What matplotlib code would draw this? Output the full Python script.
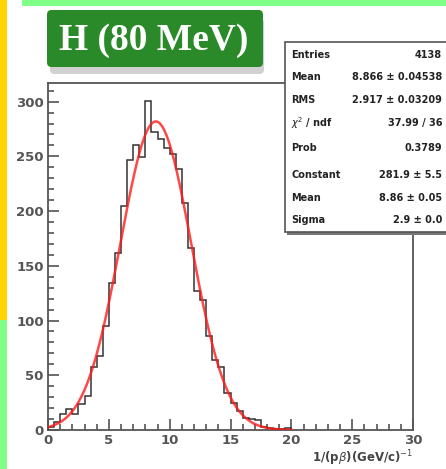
import numpy as np
import matplotlib
matplotlib.use("Agg")
import matplotlib.pyplot as plt
from matplotlib.patches import Rectangle, FancyBboxPatch

# histogram of 1/(p beta), 0.5 wide bins from 0 to 20
bin_width = 0.5
counts = [3, 7, 15, 19, 15, 24, 31, 58, 68, 95,
          134, 162, 205, 247, 260, 249, 301, 272, 266, 258,
          252, 238, 207, 166, 127, 119, 86, 64, 58, 34,
          25, 17, 11, 10, 9, 3, 2, 1, 1, 2]

# gaussian fit result
fit_const, fit_mean, fit_sigma = 281.9, 8.86, 2.9

stat_labels = ["Entries", "Mean", "RMS", r"$\chi^2$ / ndf", "Prob",
               "Constant", "Mean", "Sigma"]
stat_values = ["4138", "8.866 \u00b1 0.04538", "2.917 \u00b1 0.03209",
               "37.99 / 36", "0.3789", "281.9 \u00b1 5.5",
               "8.86 \u00b1 0.05", "2.9 \u00b1 0.0"]

W, H = 446, 469
fig = plt.figure(figsize=(W / 100, H / 100), dpi=100)
fig.patch.set_facecolor("white")

def px_box(x0, y0, x1, y1):
    # pixel box (top-left origin) -> figure fraction rect
    return (x0 / W, 1 - y1 / H, (x1 - x0) / W, (y1 - y0) / H)

# coloured page strips
for (x0, y0, x1, y1, c) in [(0, 0, 7, 320, "#ffd400"), (0, 320, 7, H, "#80ff88"),
                            (22, 0, W, 6, "#80ff88")]:
    l, b, w, h = px_box(x0, y0, x1, y1)
    fig.patches.append(Rectangle((l, b), w, h, transform=fig.transFigure,
                                 facecolor=c, edgecolor="none", zorder=0))

ax = fig.add_axes(px_box(48, 83, 413, 430))
edges = np.arange(len(counts) + 1) * bin_width
ax.stairs(counts, edges, baseline=0, color="#333333", lw=1.1, zorder=3)

xf = np.linspace(0, 20, 400)
yf = fit_const * np.exp(-0.5 * ((xf - fit_mean) / fit_sigma) ** 2)
ax.plot(xf, yf, color="#ff1a1a", lw=1.8, alpha=0.8, zorder=4)

ax.set_xlim(0, 30)
ax.set_ylim(0, 317)
ax.set_xticks(np.arange(0, 31, 5))
ax.set_xticks(np.arange(0, 31, 1), minor=True)
ax.set_yticks(np.arange(0, 301, 50))
ax.set_yticks(np.arange(0, 311, 10), minor=True)
ax.tick_params(which="both", direction="in", top=False, right=False,
               colors="#444444", labelsize=9.5, width=1.1)
ax.tick_params(which="major", length=8, pad=3)
ax.tick_params(which="minor", length=4)
for lab in ax.get_xticklabels() + ax.get_yticklabels():
    lab.set_fontweight("bold")
    lab.set_color("#555555")
for s in ax.spines.values():
    s.set_color("#555555")
    s.set_linewidth(1.3)

fig.text(413 / W, 1 - 458 / H, r"1/(p$\beta$)(GeV/c)$^{-1}$", ha="right",
         va="center", fontsize=8.5, fontweight="bold", color="#444444")

# stats box with shadow
l, b, w, h = px_box(287, 44, W + 5, 235)
fig.patches.append(Rectangle((l, b), w, h, transform=fig.transFigure,
                             facecolor="#777777", edgecolor="none", zorder=5))
l, b, w, h = px_box(285, 42, W + 5, 232)
fig.patches.append(Rectangle((l, b), w, h, transform=fig.transFigure,
                             facecolor="white", edgecolor="#555555", lw=1.2, zorder=6))
row_y = [55, 77, 100, 123, 148, 175, 198, 220]
for lab, val, y in zip(stat_labels, stat_values, row_y):
    fig.text(291 / W, 1 - y / H, lab, ha="left", va="center", fontsize=7,
             fontweight="bold", color="#222222", zorder=7)
    fig.text(442 / W, 1 - y / H, val, ha="right", va="center", fontsize=7,
             fontweight="bold", color="#222222", zorder=7)

# title badge
l, b, w, h = px_box(50, 18, 264, 74)
fig.patches.append(FancyBboxPatch((l, b), w, h, boxstyle="round,pad=0,rounding_size=0.01",
                                  transform=fig.transFigure, facecolor="#999999",
                                  edgecolor="none", alpha=0.45, zorder=5))
l, b, w, h = px_box(47, 10, 263, 67)
fig.patches.append(FancyBboxPatch((l, b), w, h, boxstyle="round,pad=0,rounding_size=0.01",
                                  transform=fig.transFigure, facecolor="#2a8a2a",
                                  edgecolor="none", zorder=6))
fig.text(154 / W, 1 - 40 / H, "H (80 MeV)", ha="center", va="center",
         fontsize=27, fontweight="bold", family="Liberation Serif",
         color="white", zorder=7)

fig.savefig("out.png", dpi=100)
